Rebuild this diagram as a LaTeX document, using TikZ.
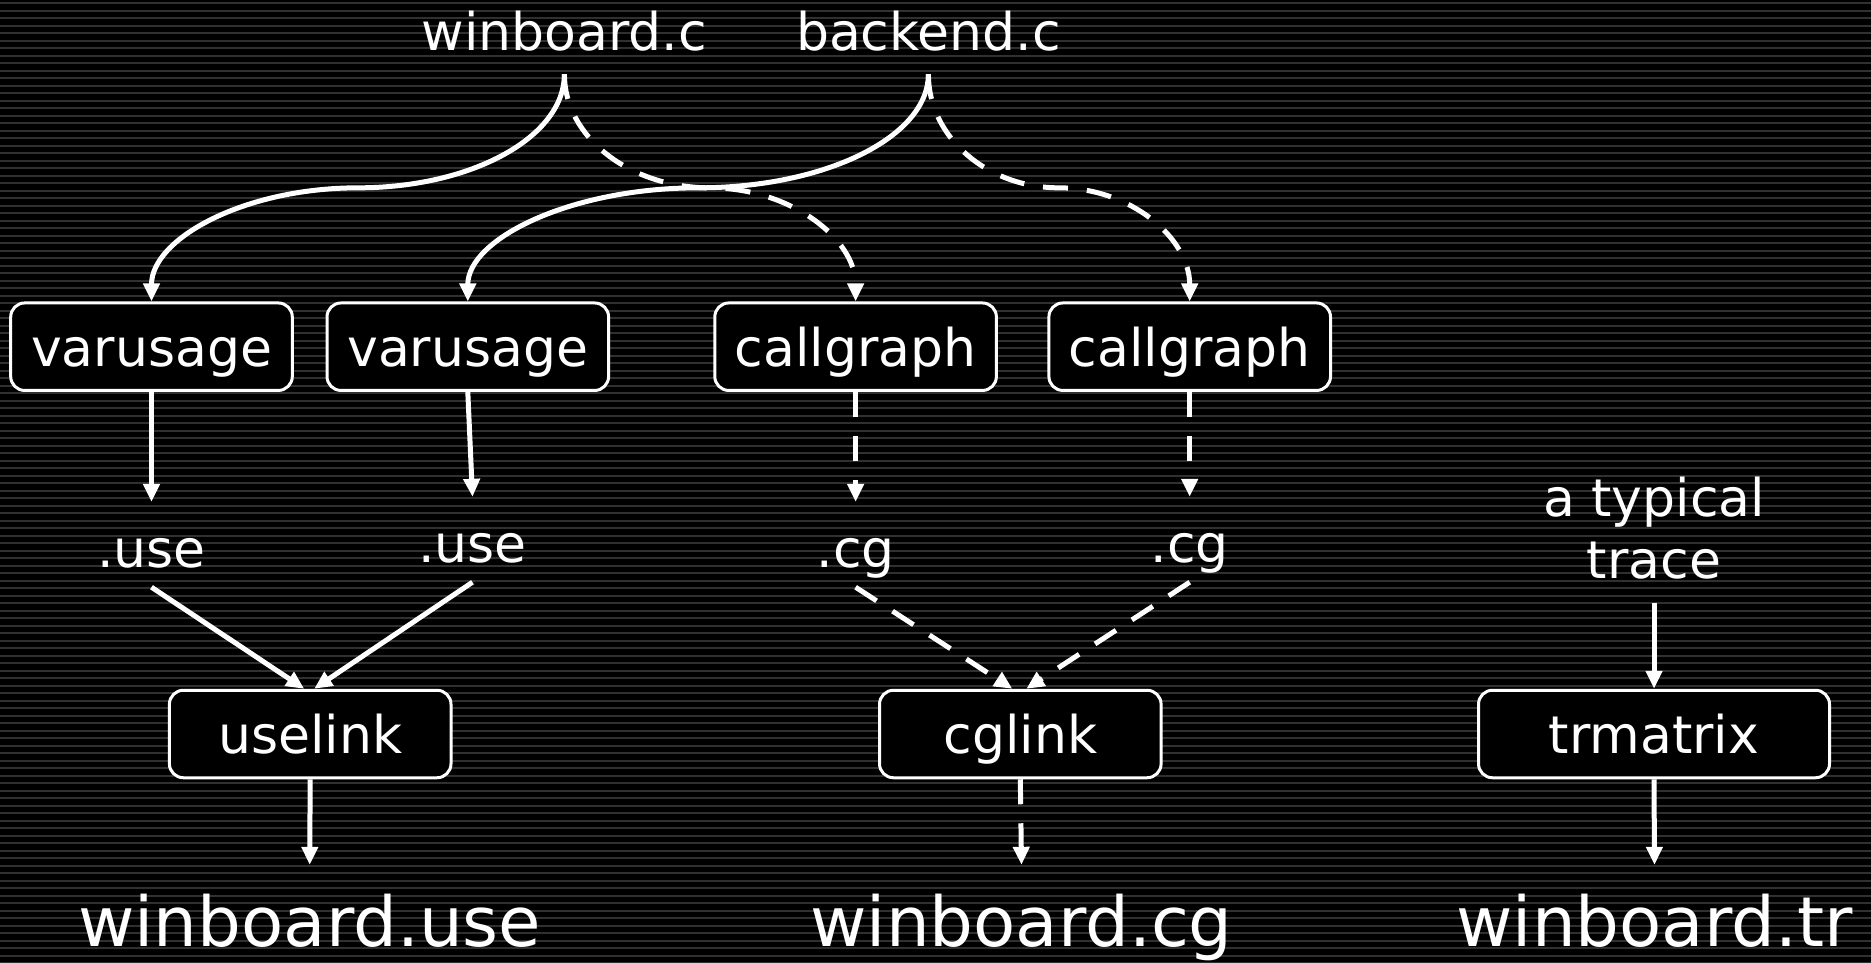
\documentclass[tikz,border=0pt]{standalone}
\usepackage{fontspec}
\setmainfont{DejaVu Sans}
\usetikzlibrary{arrows.meta,calc}
\definecolor{stripecol}{RGB}{48,48,48}
\begin{document}
\begin{tikzpicture}[x=1pt,y=-1pt,
  every node/.style={text=white},
  stripe/.style={draw=stripecol, line width=2.2pt},
  box/.style={draw=white, line width=3pt, fill=black, rounded corners=14pt,
    minimum width=281.6pt, minimum height=87.5pt, inner sep=0pt,
    text height=39.2pt, text depth=0pt, font=\fontsize{52}{62}\selectfont},
  toplabel/.style={inner sep=0pt, text depth=24pt, anchor=base, font=\fontsize{52}{62}\selectfont},
  midlabel/.style={inner sep=0pt, text height=65pt, text depth=20pt, anchor=base, font=\fontsize{52}{62}\selectfont},
  biglabel/.style={inner sep=0pt, text height=81pt, anchor=base, font=\fontsize{69}{80}\selectfont},
  tracelabel/.style={inner sep=0pt, align=center, anchor=south, font=\fontsize{52}{62}\selectfont},
  sarr/.style={draw=white, line width=5pt, -{Triangle[length=18pt,width=16pt]}},
  darr/.style={sarr, dash pattern=on 25pt off 19pt}
]
\useasboundingbox (0,0) rectangle (1871,962);
\fill[black] (0,0) rectangle (1871,962);
\foreach \i in {0,...,128} { \draw[stripe] (0,\i*7.5+3.2) -- (1871,\i*7.5+3.2); }

% top sources
\node[toplabel] (wb) at (564.4,50) {winboard.c};
\node[toplabel] (be) at (928.4,50) {backend.c};

% tool boxes
\node[box] (v1) at (151.5,346.7) {varusage};
\node[box] (v2) at (467.8,346.7) {varusage};
\node[box] (c1) at (855.6,346.7) {callgraph};
\node[box] (c2) at (1189.7,346.7) {callgraph};

% intermediate files
\node[midlabel] (u1) at (151.5,567) {.use};
\node[midlabel] (u2) at (472.5,562) {.use};
\node[midlabel] (g1) at (855.6,567) {.cg};
\node[midlabel] (g2) at (1189.7,562) {.cg};
\node[tracelabel] (tt) at (1654,579) {a typical\\trace};

% link boxes
\node[box] (ul) at (310.2,734) {uselink};
\node[box] (cl) at (1020.3,734) {cglink};
\node[box, minimum width=351pt] (tm) at (1654,734) {trmatrix};

% outputs
\node[biglabel] (ou) at (309.7,946) {winboard.use};
\node[biglabel] (oc) at (1021.5,946) {winboard.cg};
\node[biglabel] (ot) at (1654.5,946) {winboard.tr};

% curved connectors: two quarter-elliptic arcs through the midpoint
\coordinate (m1) at ($(wb.south)!0.5!(v1.north)$);
\coordinate (m2) at ($(be.south)!0.5!(v2.north)$);
\coordinate (m3) at ($(wb.south)!0.5!(c1.north)$);
\coordinate (m4) at ($(be.south)!0.5!(c2.north)$);
\draw[sarr] (wb.south) .. controls ($(wb.south)!0.552!(wb.south |- m1)$) and ($(m1)!0.552!(wb.south |- m1)$) .. (m1)
  .. controls ($(m1)!0.552!(v1.north |- m1)$) and ($(v1.north)!0.552!(v1.north |- m1)$) .. (v1.north);
\draw[sarr] (be.south) .. controls ($(be.south)!0.552!(be.south |- m2)$) and ($(m2)!0.552!(be.south |- m2)$) .. (m2)
  .. controls ($(m2)!0.552!(v2.north |- m2)$) and ($(v2.north)!0.552!(v2.north |- m2)$) .. (v2.north);
\draw[darr] (wb.south) .. controls ($(wb.south)!0.552!(wb.south |- m3)$) and ($(m3)!0.552!(wb.south |- m3)$) .. (m3)
  .. controls ($(m3)!0.552!(c1.north |- m3)$) and ($(c1.north)!0.552!(c1.north |- m3)$) .. (c1.north);
\draw[darr] (be.south) .. controls ($(be.south)!0.552!(be.south |- m4)$) and ($(m4)!0.552!(be.south |- m4)$) .. (m4)
  .. controls ($(m4)!0.552!(c2.north |- m4)$) and ($(c2.north)!0.552!(c2.north |- m4)$) .. (c2.north);

% boxes to files
\draw[sarr] (v1.south) -- (u1.north);
\draw[sarr] (v2.south) -- (u2.north);
\draw[darr] (c1.south) -- (g1.north);
\draw[darr] (c2.south) -- (g2.north);

% files to link boxes
\draw[sarr] (u1.south) -- ([xshift=-6pt]ul.north);
\draw[sarr] (u2.south) -- ([xshift=4pt]ul.north);
\draw[darr] (g1.south) -- ([xshift=-8pt]cl.north);
\draw[darr] (g2.south) -- ([xshift=6pt]cl.north);
\draw[sarr, shorten <=23.6pt] (tt.south) -- (tm.north);

% link boxes to outputs
\draw[sarr] (ul.south) -- (ou.north);
\draw[darr] (cl.south) -- (oc.north);
\draw[sarr] (tm.south) -- (ot.north);
\end{tikzpicture}
\end{document}
